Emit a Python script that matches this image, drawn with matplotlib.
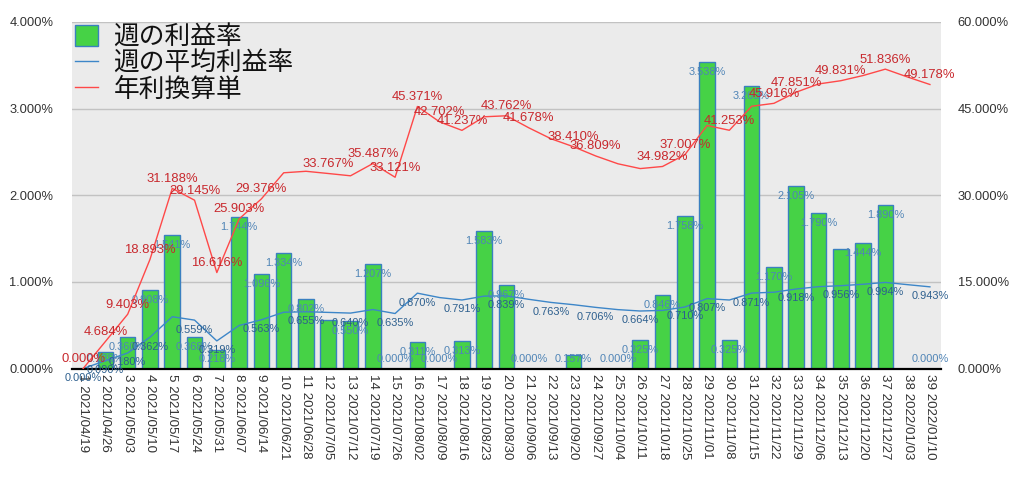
import numpy as np
import matplotlib
matplotlib.use("Agg")
import matplotlib.pyplot as plt
from matplotlib.patches import Patch
from matplotlib.lines import Line2D

plt.rcParams['font.family'] = ['Liberation Sans', 'Noto Sans CJK JP', 'DejaVu Sans']

weeks = [str(i) for i in range(1, 40)]
dates = ["2021/04/19", "2021/04/26", "2021/05/03", "2021/05/10", "2021/05/17", "2021/05/24",
         "2021/05/31", "2021/06/07", "2021/06/14", "2021/06/21", "2021/06/28", "2021/07/05",
         "2021/07/12", "2021/07/19", "2021/07/26", "2021/08/02", "2021/08/09", "2021/08/16",
         "2021/08/23", "2021/08/30", "2021/09/06", "2021/09/13", "2021/09/20", "2021/09/27",
         "2021/10/04", "2021/10/11", "2021/10/18", "2021/10/25", "2021/11/01", "2021/11/08",
         "2021/11/15", "2021/11/22", "2021/11/29", "2021/12/06", "2021/12/13", "2021/12/20",
         "2021/12/27", "2022/01/03", "2022/01/10"]

weekly_rate = [0.000, 0.188, 0.360, 0.908, 1.541, 0.368, 0.218, 1.744, 1.096, 1.334,
               0.802, 0.565, 0.550, 1.207, 0.000, 0.311, 0.000, 0.313, 1.583, 0.967,
               0.000, 0.000, 0.157, 0.000, 0.000, 0.325, 0.846, 1.758, 3.538, 0.325,
               3.265, 1.170, 2.105, 1.790, 1.375, 1.444, 1.890, 0.000, 0.000]

avg_rate = [0.000, 0.090, 0.180, 0.362, 0.598, 0.559, 0.319, 0.497, 0.563, 0.650,
            0.655, 0.648, 0.640, 0.681, 0.635, 0.870, 0.819, 0.791, 0.836, 0.839,
            0.799, 0.763, 0.737, 0.706, 0.680, 0.664, 0.671, 0.710, 0.807, 0.791,
            0.871, 0.881, 0.918, 0.945, 0.956, 0.973, 0.994, 0.968, 0.943]

annual_rate = [0.000, 4.684, 9.403, 18.893, 31.188, 29.145, 16.616, 25.903, 29.376, 33.891,
               34.152, 33.767, 33.370, 35.487, 33.121, 45.371, 42.702, 41.237, 43.590, 43.762,
               41.678, 39.780, 38.410, 36.809, 35.450, 34.620, 34.982, 37.007, 42.080, 41.253,
               45.410, 45.916, 47.851, 49.270, 49.831, 50.730, 51.836, 50.470, 49.178]

# which data labels are displayed (1-based week numbers)
bar_label_weeks = [2, 3, 4, 5, 6, 7, 8, 9, 10, 11, 13, 14, 15, 16, 17, 18, 19, 20, 21, 23,
                   25, 26, 27, 28, 29, 30, 31, 32, 33, 34, 36, 37, 39]
avg_label_weeks = [1, 2, 3, 4, 6, 7, 9, 11, 13, 15, 16, 18, 20, 22, 24, 26, 28, 29, 31, 33,
                   35, 37, 39]
annual_label_weeks = [1, 2, 3, 4, 5, 6, 7, 8, 9, 12, 14, 15, 16, 17, 18, 20, 21, 23, 24, 27,
                      28, 30, 32, 33, 35, 37, 39]

legend_labels = ["週の利益率", "週の平均利益率", "年利換算単"]

BAR_COLOR = '#46d246'
BAR_EDGE = '#3a80c0'
AVG_COLOR = '#3d86c8'
ANN_COLOR = '#ff4848'
AVG_TXT = '#2d5f8e'
BAR_TXT = '#4f84b6'
ANN_TXT = '#c8282d'

fig = plt.figure(figsize=(10.24, 4.78), dpi=100)
ax = fig.add_axes([0.0703, 0.229, 0.919 - 0.0703, 0.954 - 0.229])
ax.set_facecolor('#ebebeb')
x = np.arange(len(weeks))

ax.bar(x, weekly_rate, width=0.7, color=BAR_COLOR, edgecolor=BAR_EDGE, linewidth=1.0, zorder=2)
ax.plot(x, avg_rate, color=AVG_COLOR, lw=1.0, zorder=3)
ax.set_xlim(-0.5, len(weeks) - 0.5)
ax.set_ylim(0, 4)
ax.set_yticks([0, 1, 2, 3, 4])
ax.set_yticklabels([f"{v:.3f}%" for v in [0, 1, 2, 3, 4]])
ax.set_axisbelow(True)
ax.yaxis.grid(True, color='#c2c2c2', lw=1.0)
ax.tick_params(axis='y', length=0, pad=13.5, labelsize=9.3, labelcolor='#333333')
ax.set_xticks(x)
ax.set_xticklabels([f"{w} {d}" for w, d in zip(weeks, dates)], rotation=-90,
                   fontsize=9.6, color='#333333', va='top', ha='center')
ax.tick_params(axis='x', length=0, pad=4)
for s in ['left', 'right', 'top']:
    ax.spines[s].set_visible(False)
ax.spines['bottom'].set_color('black')
ax.spines['bottom'].set_linewidth(1.6)
ax.spines['bottom'].set_zorder(5)

ax2 = ax.twinx()
ax2.plot(x, annual_rate, color=ANN_COLOR, lw=1.0, zorder=3)
ax2.set_ylim(0, 60)
ax2.set_yticks([0, 15, 30, 45, 60])
ax2.set_yticklabels([f"{v:.3f}%" for v in [0, 15, 30, 45, 60]])
ax2.tick_params(axis='y', length=0, pad=12, labelsize=9.3, labelcolor='#333333')
for s in ax2.spines.values():
    s.set_visible(False)

# bar labels
for w in bar_label_weeks:
    i = w - 1
    v = weekly_rate[i]
    ax.annotate(f"{v:.3f}%", (i, max(v, 0.23)), xytext=(0, -7.2), textcoords='offset points',
                ha='center', va='center', fontsize=7.9, color=BAR_TXT, zorder=6)
# average labels
for w in avg_label_weeks:
    i = w - 1
    v = avg_rate[i]
    ax.annotate(f"{v:.3f}%", (i, v), xytext=(0, -6.8), textcoords='offset points',
                ha='center', va='center', fontsize=7.9, color=AVG_TXT, zorder=6)
# annual labels
for w in annual_label_weeks:
    i = w - 1
    v = annual_rate[i]
    ax2.annotate(f"{v:.3f}%", (i, v), xytext=(0, 6.8), textcoords='offset points',
                 ha='center', va='center', fontsize=9.4, color=ANN_TXT, zorder=6)

handles = [Patch(facecolor=BAR_COLOR, edgecolor=BAR_EDGE, linewidth=1.0),
           Line2D([0], [0], color=AVG_COLOR, lw=1.0),
           Line2D([0], [0], color=ANN_COLOR, lw=1.0)]
leg = ax2.legend(handles, legend_labels, loc='upper left', bbox_to_anchor=(0.0, 1.0),
                 frameon=False, prop={'family': ['Noto Sans CJK JP'], 'size': 18.5},
                 handlelength=0.9, handleheight=0.85, handletextpad=0.62,
                 labelspacing=0.0, borderaxespad=0.0, borderpad=0.1)
for t in leg.get_texts():
    t.set_color('#111111')

fig.savefig("out.png", dpi=100, facecolor='white')
